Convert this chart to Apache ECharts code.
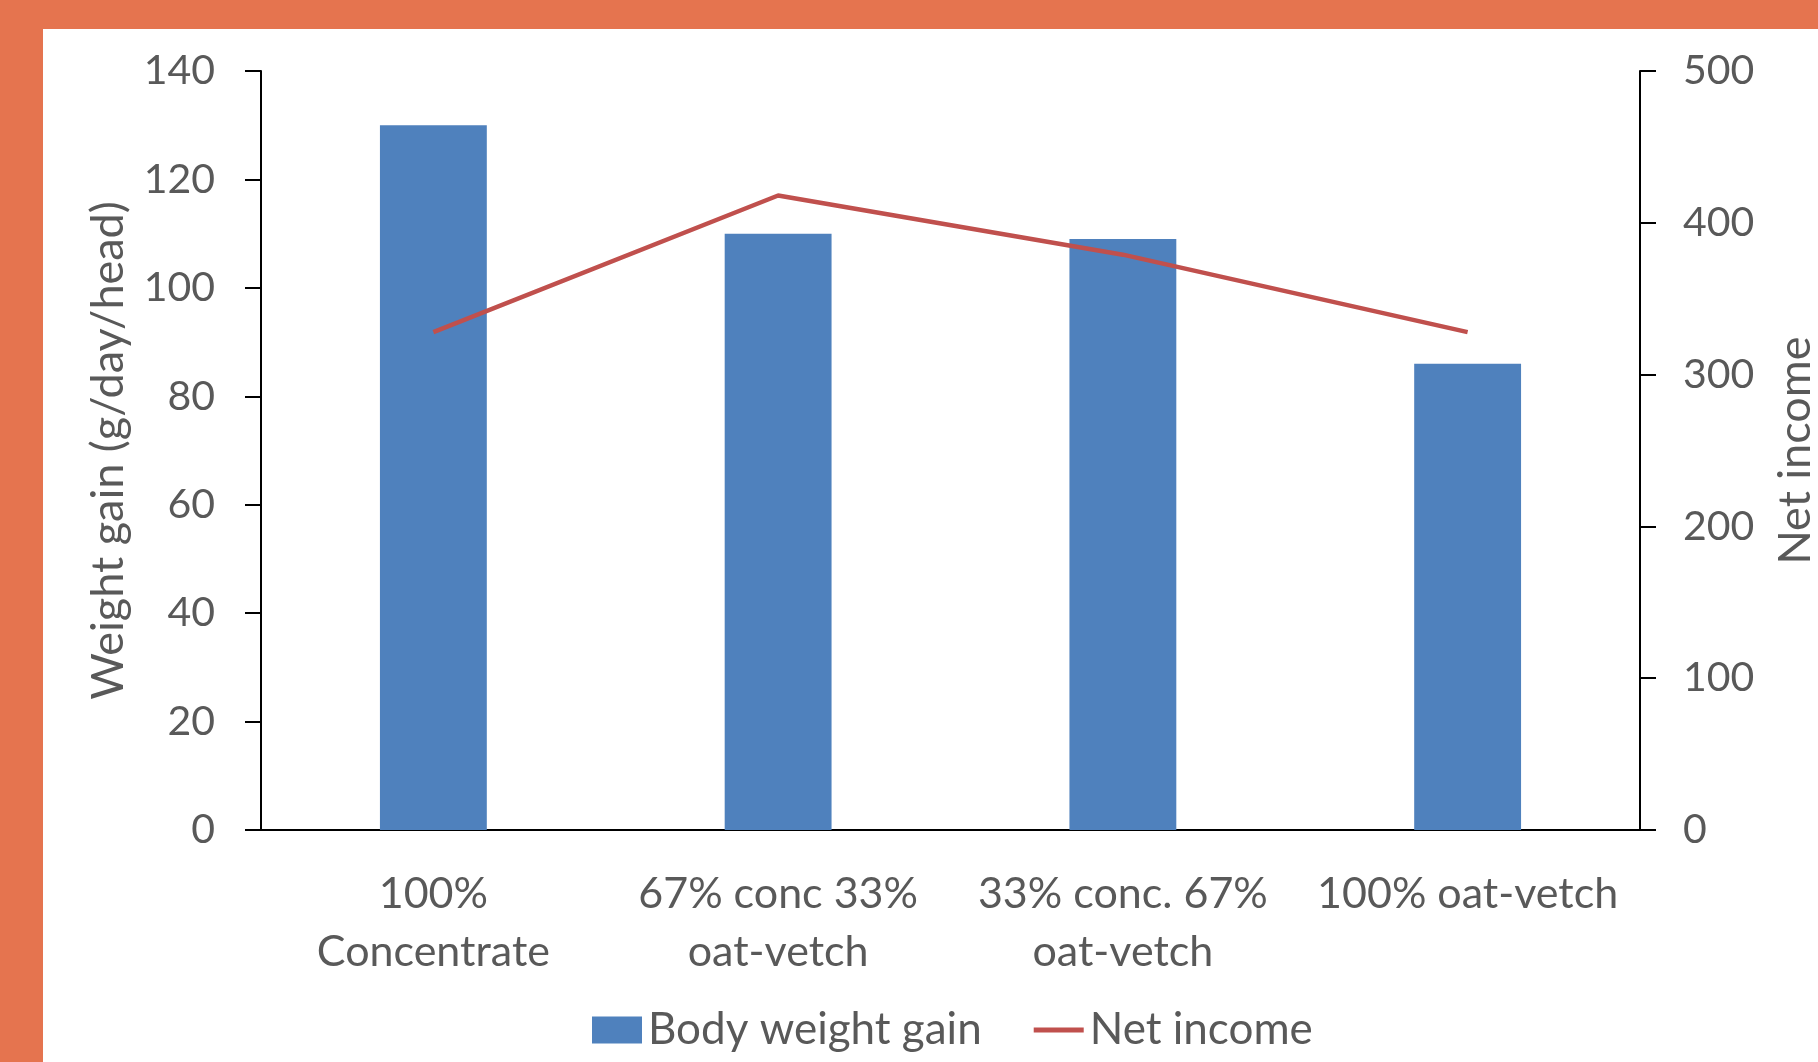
<!DOCTYPE html>
<html>
<head>
<meta charset="utf-8">
<script src="https://cdn.jsdelivr.net/npm/echarts@6/dist/echarts.min.js"></script>
<style>
html,body{margin:0;padding:0;background:#fff;}
#c{width:1818px;height:1062px;}
</style>
</head>
<body>
<div id="c"></div>
<script>
const categories = ['100%\nConcentrate', '67% conc 33%\noat-vetch', '33% conc. 67%\noat-vetch', '100% oat-vetch'];
const bodyWeightGain = [130, 110, 109, 86];
const netIncome = [328, 418, 379, 328];
const leftTicks = {min: 0, max: 140, interval: 20};
const rightTicks = {min: 0, max: 500, interval: 100};

const FONT = 'Lato';
const TXT = '#595959';
const chart = echarts.init(document.getElementById('c'), null, {renderer: 'canvas'});
chart.setOption({
  animation: false,
  backgroundColor: '#fff',
  textStyle: {fontFamily: FONT},
  graphic: [
    {type: 'rect', shape: {x: 0, y: 0, width: 1818, height: 29}, style: {fill: '#E5744F'}, z: 100},
    {type: 'rect', shape: {x: 0, y: 0, width: 43, height: 1062}, style: {fill: '#E5744F'}, z: 100}
  ],
  grid: {left: 261, right: 178, top: 71, bottom: 232, containLabel: false, outerBoundsMode: 'none'},
  legend: {
    bottom: 5,
    left: 587,
    itemGap: 52,
    itemWidth: 50,
    itemHeight: 27,
    textStyle: {fontFamily: FONT, fontSize: 44, color: TXT, padding: [0, 0, 0, 1]},
    data: [
      {name: 'Body weight gain', icon: 'rect'},
      {name: 'Net income', icon: 'path://M0,0 H50 V5 H0 Z'}
    ]
  },
  xAxis: {
    type: 'category',
    data: categories,
    axisLine: {lineStyle: {color: '#000', width: 2}},
    axisTick: {show: false},
    axisLabel: {fontFamily: FONT, fontSize: 43, color: TXT, margin: 35, lineHeight: 58, interval: 0}
  },
  yAxis: [
    {
      type: 'value', min: leftTicks.min, max: leftTicks.max, interval: leftTicks.interval,
      name: 'Weight gain (g/day/head)', nameLocation: 'middle', nameGap: 130, nameRotate: 90,
      nameTextStyle: {fontFamily: FONT, fontSize: 45, color: TXT},
      axisLine: {show: true, lineStyle: {color: '#000', width: 2}},
      axisTick: {show: true, length: 16, lineStyle: {color: '#000', width: 2}},
      axisLabel: {fontFamily: FONT, fontSize: 41, color: TXT, margin: 46},
      splitLine: {show: false}
    },
    {
      type: 'value', min: rightTicks.min, max: rightTicks.max, interval: rightTicks.interval,
      name: 'Net income', nameLocation: 'middle', nameGap: 133, nameRotate: 90,
      nameTextStyle: {fontFamily: FONT, fontSize: 45, color: TXT},
      axisLine: {show: true, lineStyle: {color: '#000', width: 2}},
      axisTick: {show: true, length: 16, lineStyle: {color: '#000', width: 2}},
      axisLabel: {fontFamily: FONT, fontSize: 41, color: TXT, margin: 43},
      splitLine: {show: false}
    }
  ],
  series: [
    {
      name: 'Body weight gain', type: 'bar', data: bodyWeightGain, yAxisIndex: 0,
      barWidth: '31%', itemStyle: {color: '#4F81BD'}
    },
    {
      name: 'Net income', type: 'line', data: netIncome, yAxisIndex: 1,
      showSymbol: false, symbol: 'none',
      lineStyle: {color: '#C0504D', width: 4.5}, itemStyle: {color: '#C0504D'}
    }
  ]
});
</script>
</body>
</html>
